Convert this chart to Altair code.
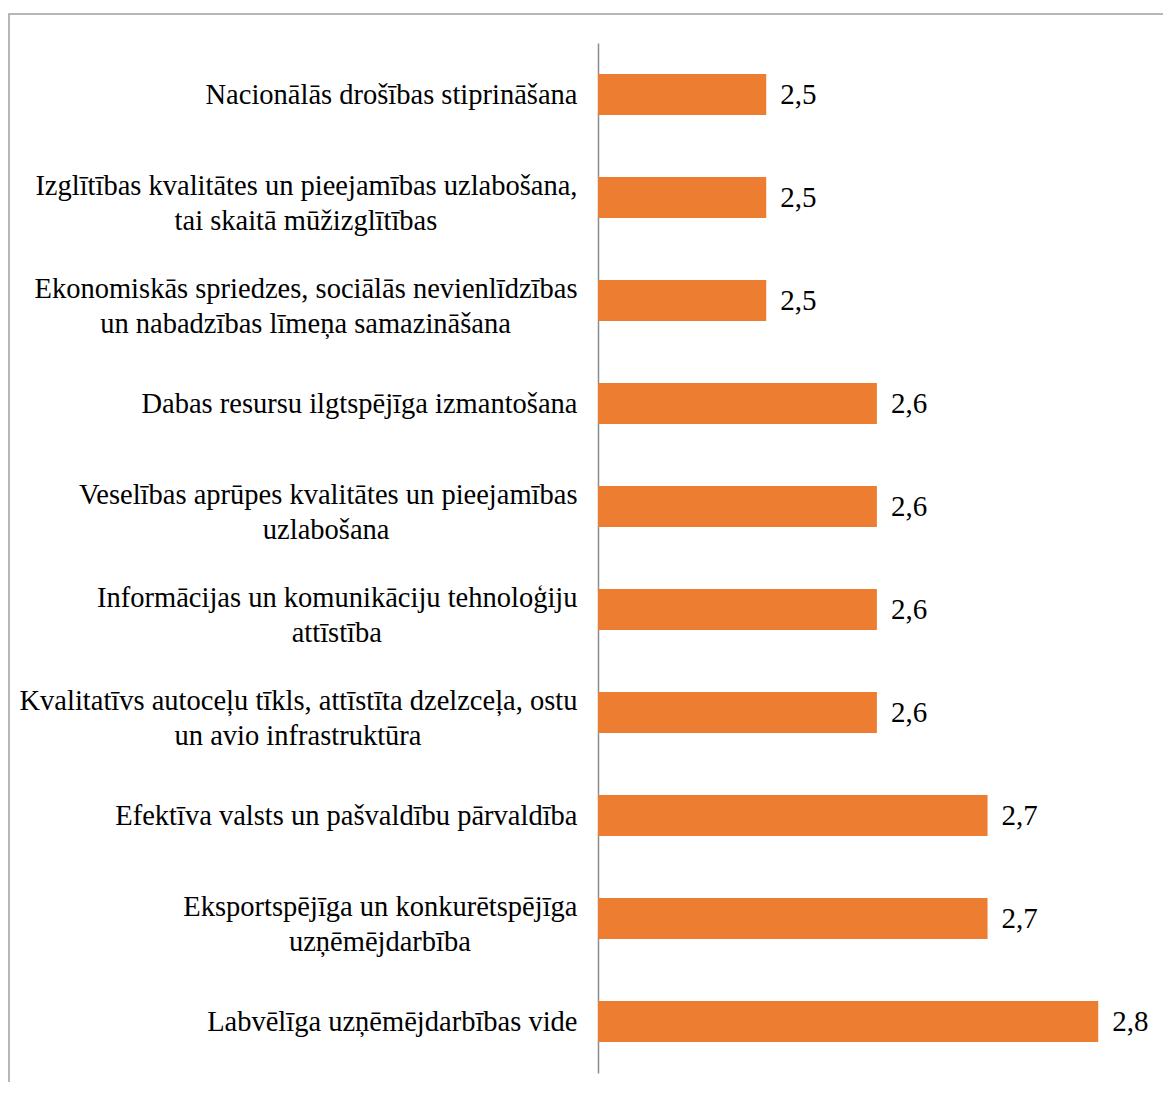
import glob
import struct

import altair as alt
import pandas as pd

categories = [
    "Nacionālās drošības stiprināšana",
    "Izglītības kvalitātes un pieejamības uzlabošana,|tai skaitā mūžizglītības",
    "Ekonomiskās spriedzes, sociālās nevienlīdzības|un nabadzības līmeņa samazināšana",
    "Dabas resursu ilgtspējīga izmantošana",
    "Veselības aprūpes kvalitātes un pieejamības|uzlabošana",
    "Informācijas un komunikāciju tehnoloģiju|attīstība",
    "Kvalitatīvs autoceļu tīkls, attīstīta dzelzceļa, ostu|un avio infrastruktūra",
    "Efektīva valsts un pašvaldību pārvaldība",
    "Eksportspējīga un konkurētspējīga|uzņēmējdarbība",
    "Labvēlīga uzņēmējdarbības vide",
]
values = [2.5, 2.5, 2.5, 2.6, 2.6, 2.6, 2.6, 2.7, 2.7, 2.8]
value_labels = ["2,5", "2,5", "2,5", "2,6", "2,6", "2,6", "2,6", "2,7", "2,7", "2,8"]

FONT = "Liberation Serif, Times New Roman, Times, serif"
FONT_SIZE = 28.5
VALUE_FONT_SIZE = 29
LABEL_PAD = 21
LINE_H = 35
FIRST_LINE_SHIFT = -12


# ---- text width measurement from the installed font (for centring 2-line labels) ----
def _load_font_measure():
    paths = glob.glob("/usr/share/fonts/**/LiberationSerif-Regular.ttf", recursive=True)
    paths += glob.glob("/usr/local/share/fonts/**/LiberationSerif-Regular.ttf", recursive=True)
    for p in paths:
        try:
            data = open(p, "rb").read()
            H = lambda o: struct.unpack(">H", data[o:o + 2])[0]
            h = lambda o: struct.unpack(">h", data[o:o + 2])[0]
            num_tables = H(4)
            tables = {}
            for i in range(num_tables):
                tag, _cs, off, ln = struct.unpack(">4sIII", data[12 + 16 * i:28 + 16 * i])
                tables[tag.decode("latin1")] = off
            upem = H(tables["head"] + 18)
            n_hm = H(tables["hhea"] + 34)
            hmtx = tables["hmtx"]
            adv = [H(hmtx + 4 * i) for i in range(n_hm)]
            cmap = tables["cmap"]
            sub = None
            for i in range(H(cmap + 2)):
                pid, eid, off = struct.unpack(">HHI", data[cmap + 4 + 8 * i:cmap + 12 + 8 * i])
                if pid == 3 and eid == 1 and H(cmap + off) == 4:
                    sub = cmap + off
            seg_x2 = H(sub + 6)
            seg = seg_x2 // 2
            ends = sub + 14
            starts = ends + seg_x2 + 2
            deltas = starts + seg_x2
            roffs = deltas + seg_x2

            def gid(c):
                for i in range(seg):
                    if c <= H(ends + 2 * i):
                        st = H(starts + 2 * i)
                        if c < st:
                            return 0
                        d = h(deltas + 2 * i)
                        ro = H(roffs + 2 * i)
                        if ro == 0:
                            return (c + d) & 0xFFFF
                        g = H(roffs + 2 * i + ro + 2 * (c - st))
                        return (g + d) & 0xFFFF if g else 0
                return 0

            def measure(s, size):
                return sum(adv[min(gid(ord(ch)), n_hm - 1)] for ch in s) / upem * size

            return measure
        except Exception:
            continue
    return lambda s, size: len(s) * 0.45 * size


measure = _load_font_measure()

first_lines = [c.split("|")[0] for c in categories]
second_lines = [c.split("|")[1] if "|" in c else "" for c in categories]
line2_x = [-LABEL_PAD - measure(f, FONT_SIZE) / 2 for f in first_lines]

df = pd.DataFrame({"category": categories, "value": values, "label": value_labels})
df2 = pd.DataFrame({"category": categories, "line2": second_lines, "lx": line2_x})
df2 = df2[df2["line2"] != ""]

X_MIN = 2.348
x_scale = alt.Scale(domain=[X_MIN, 2.854], zero=False, nice=False)

y_enc = alt.Y(
    "category:N",
    sort=categories,
    scale=alt.Scale(paddingInner=0.6, paddingOuter=0.3),
    axis=alt.Axis(
        title=None,
        labelExpr="split(datum.label, '|')[0]",
        ticks=False,
        domainColor="#8c8c8c",
        domainWidth=1.5,
        labelFont=FONT,
        labelFontSize=FONT_SIZE,
        labelColor="black",
        labelPadding=LABEL_PAD,
        labelLimit=700,
        labelAlign="right",
        labelBaseline="middle",
        labelOffset=alt.condition(
            "indexof(datum.value, '|') >= 0", alt.value(FIRST_LINE_SHIFT), alt.value(0)
        ),
        grid=False,
    ),
)

base = alt.Chart(df)

bars = base.mark_bar(color="#ED7D31").encode(
    x=alt.X("value:Q", scale=x_scale, axis=None),
    x2=alt.datum(X_MIN),
    y=y_enc,
)

text = base.mark_text(
    align="left", baseline="middle", dx=14, font=FONT, fontSize=VALUE_FONT_SIZE, color="black"
).encode(
    x=alt.X("value:Q", scale=x_scale, axis=None),
    y=alt.Y("category:N", sort=categories),
    text="label:N",
)

line2 = alt.Chart(df2).mark_text(
    align="center", baseline="middle", dy=FIRST_LINE_SHIFT + LINE_H,
    font=FONT, fontSize=FONT_SIZE, color="black",
).encode(
    x=alt.X("lx:Q", scale=None),
    y=alt.Y("category:N", sort=categories),
    text="line2:N",
)

frame = alt.Chart(pd.DataFrame({"f": [0]})).mark_rect(
    fillOpacity=0, stroke="#a0a0a0", strokeWidth=1.5
).encode(
    x=alt.value(-589), x2=alt.value(700), y=alt.value(-29), y2=alt.value(1200)
)

chart = alt.layer(frame, bars, text, line2).properties(
    width=560,
    height=1030,
    padding={"left": 590, "top": 35, "right": 5, "bottom": 9},
    autosize=alt.AutoSizeParams(type="none"),
    background="white",
).configure_view(strokeWidth=0)

chart.save("out.html", embed_options={"renderer": "svg", "actions": False})
